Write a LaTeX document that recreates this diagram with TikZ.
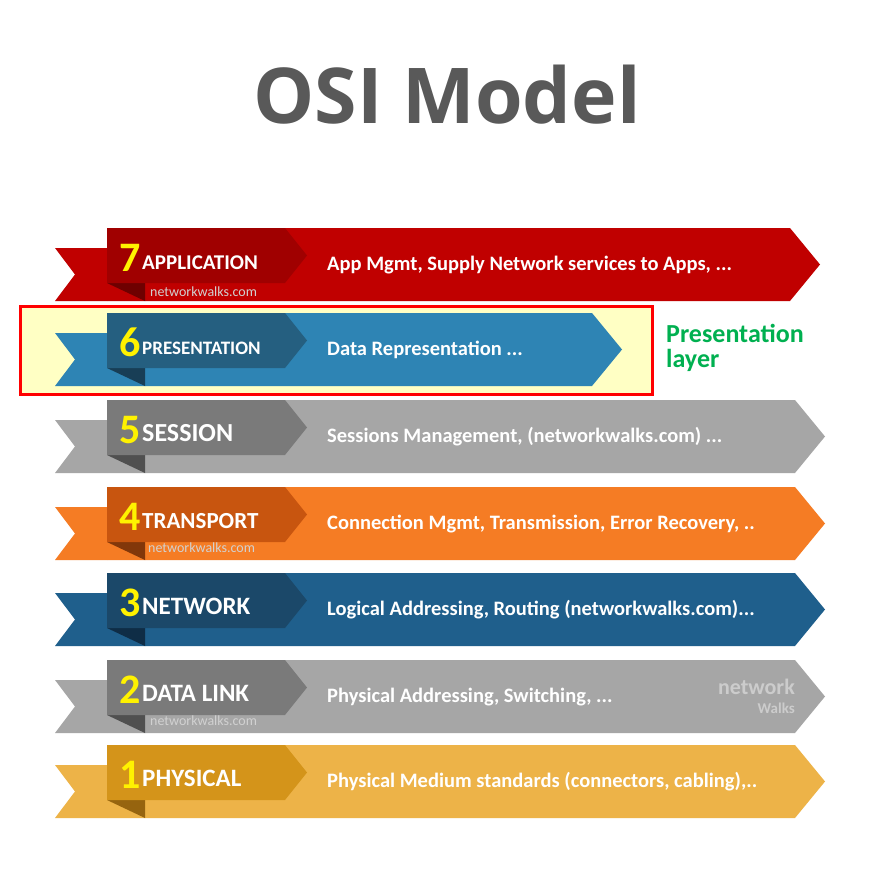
\documentclass[tikz,border=0pt]{standalone}
\usepackage{fontspec}
\setmainfont{Carlito}
\newfontfamily\titlefont{Open Sans}
\definecolor{b7}{RGB}{192,0,0}\definecolor{t7}{RGB}{160,0,0}\definecolor{f7}{RGB}{110,0,0}
\definecolor{b6}{RGB}{46,132,180}\definecolor{t6}{RGB}{37,95,128}\definecolor{f6}{RGB}{24,62,86}
\definecolor{b5}{RGB}{166,166,166}\definecolor{t5}{RGB}{122,122,122}\definecolor{f5}{RGB}{80,80,80}
\definecolor{b4}{RGB}{245,124,36}\definecolor{t4}{RGB}{200,85,15}\definecolor{f4}{RGB}{130,55,10}
\definecolor{b3}{RGB}{31,95,140}\definecolor{t3}{RGB}{27,72,105}\definecolor{f3}{RGB}{15,45,70}
\definecolor{b1}{RGB}{237,179,72}\definecolor{t1}{RGB}{212,148,26}\definecolor{f1}{RGB}{150,100,15}
\definecolor{hl}{RGB}{255,255,196}\definecolor{pgreen}{RGB}{0,176,80}
\begin{document}
\begin{tikzpicture}[x=1pt,y=-1pt,
  num/.style={anchor=base west,text=yellow,font=\bfseries\fontsize{42}{42}\selectfont,inner sep=0},
  desc/.style={anchor=west,text=white,font=\bfseries\fontsize{20.5}{20.5}\selectfont,inner sep=0},
  wm/.style={anchor=west,text=white!82!black,font=\fontsize{14}{14}\selectfont,inner sep=0}]
\useasboundingbox (0,0) rectangle (895,896);
\fill[white] (0,0) rectangle (895,896);
\node[text=black!65,font=\titlefont\bfseries\fontsize{77}{77}\selectfont] (title) at (447,95) {OSI Model};
\draw[red,line width=3pt,fill=hl] (20,306) rectangle (652,394);
\node[anchor=west,text=pgreen,font=\bfseries\fontsize{26}{26}\selectfont,align=left,inner sep=0] (pl) at (666,348) {Presentation\\[-1pt]layer};
\newcommand\osirow[9]{%
  \fill[b#3] (55,#1+20) -- (107,#1+20) -- (107,#1+73) -- (55,#1+73) -- (75,#1+46.5) -- cycle;
  \fill[b#3] (107,#1) -- (#2,#1) -- (#2+30,#1+36.5) -- (#2,#1+73) -- (107,#1+73) -- cycle;
  \fill[f#3] (107,#1+55) -- (145,#1+55) -- (145,#1+73) -- cycle;
  \fill[t#3] (107,#1) -- (285,#1) -- (307,#1+27.5) -- (285,#1+55) -- (107,#1+55) -- cycle;
  \node[num] at (119,#1+43) {#6};
  \node[anchor=base west,text=white,font=\bfseries\fontsize{#9}{#9}\selectfont,inner sep=0] at (142,#1+41) {#7};
  \node[desc] at (327,#1+37) {#8};
}
\osirow{228}{790}{7}{}{}{7}{APPLICATION}{App Mgmt, Supply Network services to Apps, ...}{21}
\osirow{313}{592}{6}{}{}{6}{PRESENTATION}{Data Representation ...}{19}
\osirow{400}{795}{5}{}{}{5}{SESSION}{Sessions Management, (networkwalks.com) ...}{26}
\osirow{487}{795}{4}{}{}{4}{TRANSPORT}{Connection Mgmt, Transmission, Error Recovery, ..}{23}
\osirow{573}{795}{3}{}{}{3}{NETWORK}{Logical Addressing, Routing (networkwalks.com)...}{25}
\osirow{660}{795}{5}{}{}{2}{DATA LINK}{Physical Addressing, Switching, ...}{25}
\osirow{745}{795}{1}{}{}{1}{PHYSICAL}{Physical Medium standards (connectors, cabling),..}{25}
\node[wm] (w7) at (150,292) {networkwalks.com};
\node[wm] (w4) at (148,548) {networkwalks.com};
\node[wm] (w2) at (150,721) {networkwalks.com};
\node[anchor=east,text=white!80!black,font=\bfseries\fontsize{22}{22}\selectfont,inner sep=0] (lg1) at (795,687) {network};
\node[anchor=east,text=white!80!black,font=\bfseries\fontsize{15}{15}\selectfont,inner sep=0] (lg2) at (795,708) {Walks};
\end{tikzpicture}
\end{document}
